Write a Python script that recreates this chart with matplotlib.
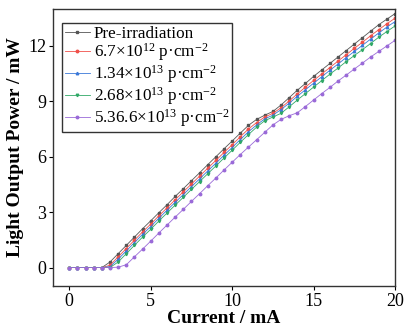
import numpy as np
import matplotlib
matplotlib.use("Agg")
import matplotlib.pyplot as plt

current = np.arange(0, 20.01, 0.5)

pre = [0, 0, 0, 0, 0, 0.3, 0.75, 1.2, 1.65, 2.1, 2.53, 2.97, 3.4, 3.85, 4.27, 4.7, 5.13, 5.57, 6.0, 6.43,
       6.85, 7.28, 7.7, 8.02, 8.25, 8.45, 8.8, 9.2, 9.6, 9.97, 10.35, 10.7, 11.05, 11.4, 11.75, 12.1,
       12.45, 12.8, 13.15, 13.45, 13.75]
r1 = [0, 0, 0, 0, 0, 0.12, 0.58, 1.03, 1.48, 1.93, 2.35, 2.8, 3.23, 3.67, 4.1, 4.52, 4.95, 5.38, 5.8, 6.23,
      6.65, 7.08, 7.5, 7.85, 8.15, 8.35, 8.65, 9.02, 9.4, 9.77, 10.13, 10.48, 10.83, 11.18, 11.52, 11.87,
      12.2, 12.55, 12.88, 13.2, 13.5]
r2 = [0, 0, 0, 0, 0, 0.05, 0.45, 0.9, 1.35, 1.8, 2.22, 2.67, 3.1, 3.53, 3.95, 4.38, 4.8, 5.23, 5.65, 6.08,
      6.5, 6.93, 7.35, 7.72, 8.05, 8.25, 8.55, 8.9, 9.27, 9.63, 9.98, 10.33, 10.68, 11.02, 11.37, 11.7,
      12.03, 12.37, 12.7, 13.02, 13.32]
r3 = [0, 0, 0, 0, 0, 0.0, 0.3, 0.75, 1.2, 1.65, 2.07, 2.52, 2.95, 3.38, 3.8, 4.23, 4.65, 5.08, 5.5, 5.93,
      6.35, 6.78, 7.2, 7.6, 7.95, 8.15, 8.35, 8.7, 9.07, 9.42, 9.77, 10.12, 10.47, 10.8, 11.15, 11.48,
      11.8, 12.13, 12.47, 12.78, 13.08]
r4 = [0, 0, 0, 0, 0, 0, 0.02, 0.15, 0.58, 1.0, 1.43, 1.87, 2.3, 2.73, 3.15, 3.58, 4.0, 4.43, 4.85, 5.28,
      5.7, 6.12, 6.52, 6.92, 7.32, 7.72, 8.02, 8.22, 8.38, 8.72, 9.07, 9.42, 9.75, 10.1, 10.42, 10.75,
      11.07, 11.4, 11.7, 12.0, 12.3]

labels = ["Pre-irradiation",
          r"6.7×10$^{12}$ p·cm$^{-2}$",
          r"1.34×10$^{13}$ p·cm$^{-2}$",
          r"2.68×10$^{13}$ p·cm$^{-2}$",
          r"5.36.6×10$^{13}$ p·cm$^{-2}$"]
colors = ["#555555", "#f0504a", "#3a78d8", "#2fa866", "#9a6ad8"]
markers = ["s", "o", "^", "v", "o"]
series = [pre, r1, r2, r3, r4]

plt.rcParams['font.family'] = ['Liberation Serif', 'DejaVu Serif']
plt.rcParams['mathtext.fontset'] = 'custom'
plt.rcParams['mathtext.rm'] = 'Liberation Serif'
plt.rcParams['mathtext.it'] = 'Liberation Serif:italic'

fig = plt.figure(figsize=(4.04, 3.32), dpi=100)
ax = fig.add_axes([53/404, 1-286/332, (395-53)/404, (286-9)/332])

for y, lab, c, m in zip(series, labels, colors, markers):
    ax.plot(current, y, color=c, lw=0.6, marker=m, ms=1.8, mec=c, mfc=c, label=lab)

ax.set_xlim(-1, 20)
ax.set_ylim(-1, 14)
ax.set_xticks([0, 5, 10, 15, 20])
ax.set_yticks([0, 3, 6, 9, 12])
ax.tick_params(labelsize=13, direction='out', length=3, width=0.8, pad=2)
for s in ax.spines.values():
    s.set_linewidth(1.0)
    s.set_color('#333333')
ax.set_xlabel("Current / mA", fontsize=14, fontweight='bold', labelpad=0)
ax.set_ylabel("Light Output Power / mW", fontsize=14, fontweight='bold', labelpad=3)

leg = ax.legend(loc='upper left', bbox_to_anchor=(9/342, 1 - 14/277), fontsize=12.3,
                frameon=True, fancybox=False, edgecolor='black', handlelength=1.5,
                handletextpad=0.2, labelspacing=0.0, borderpad=0.15, borderaxespad=0.0)
leg.get_frame().set_linewidth(1.0)

fig.savefig("out.png", dpi=100)
